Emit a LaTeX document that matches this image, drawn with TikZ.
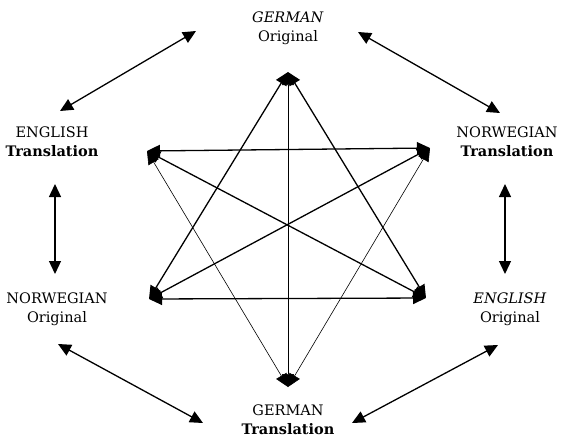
\documentclass[tikz,border=0pt]{standalone}
\usepackage{fontspec}
\setmainfont{DejaVu Serif}
\usetikzlibrary{arrows.meta}

\begin{document}
\begin{tikzpicture}[x=1pt,y=-1pt,
  lang/.style={align=center,inner sep=0pt,font=\fontsize{14.5}{19}\selectfont},
  link/.style={{Triangle[length=13pt,width=12pt]}-{Triangle[length=13pt,width=12pt]},line width=1.3pt},
  thinlink/.style={{Triangle[length=13pt,width=12pt]}-{Triangle[length=13pt,width=12pt]},line width=.6pt}]
\useasboundingbox (0,0) rectangle (562,440);
% languages
\node[lang] (gerO) at (288,28) {\textit{GERMAN}\\Original};
\node[lang] (engT) at (52,142) {ENGLISH\\\textbf{Translation}};
\node[lang] (norT) at (507,142) {NORWEGIAN\\\textbf{Translation}};
\node[lang] (norO) at (57,309) {NORWEGIAN\\Original};
\node[lang] (engO) at (510,309) {\textit{ENGLISH}\\Original};
\node[lang] (gerT) at (288,420) {GERMAN\\\textbf{Translation}};
% outer ends
\coordinate (a1) at (60,111);  \coordinate (a2) at (196,31);
\coordinate (b1) at (358,32);  \coordinate (b2) at (500,113);
\coordinate (c1) at (55,184);  \coordinate (c2) at (55,274);
\coordinate (d1) at (505,184); \coordinate (d2) at (505,274);
\coordinate (e1) at (58,344);  \coordinate (e2) at (203,423);
\coordinate (f1) at (498,345); \coordinate (f2) at (352,423);
% star
\coordinate (s0) at (288,72);
\coordinate (s1) at (147,151);
\coordinate (s2) at (430,148);
\coordinate (s3) at (149,299);
\coordinate (s4) at (426,298);
\coordinate (s5) at (288,387);
\draw[link] (a1) -- (a2);
\draw[link] (b1) -- (b2);
\draw[link] (c1) -- (c2);
\draw[link] (d1) -- (d2);
\draw[link] (e1) -- (e2);
\draw[link] (f1) -- (f2);
\draw[link] (s0) -- (s3);
\draw[link] (s0) -- (s4);
\draw[link] (s3) -- (s4);
\draw[link] (s1) -- (s2);
\draw[thinlink] (s1) -- (s5);
\draw[thinlink] (s2) -- (s5);
\draw[thinlink] (s0) -- (s5);
\draw[link] (s1) -- (s4);
\draw[link] (s2) -- (s3);
\end{tikzpicture}
\end{document}
